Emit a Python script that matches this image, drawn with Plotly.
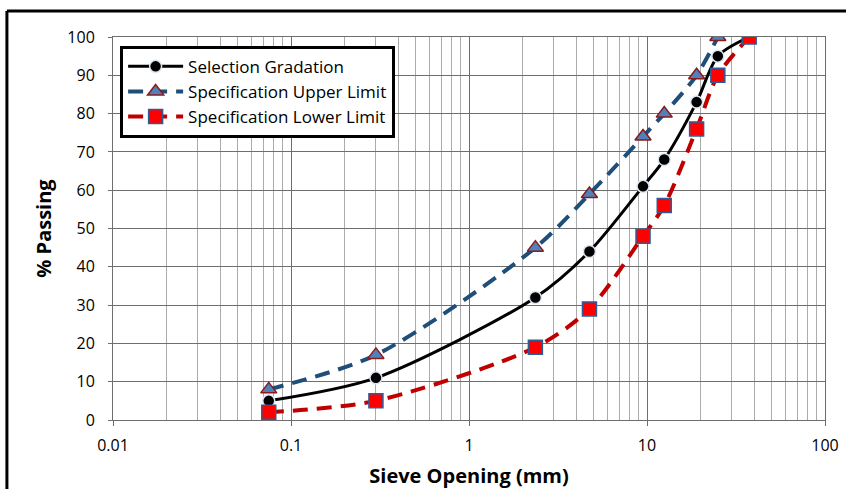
import plotly.graph_objects as go

sieve = [0.075, 0.3, 2.36, 4.75, 9.5, 12.5, 19, 25, 37.5]
selection = [5, 11, 32, 44, 61, 68, 83, 95, 100]
upper_sieve = [0.075, 0.3, 2.36, 4.75, 9.5, 12.5, 19, 25]
upper = [8, 17, 45, 59, 74, 80, 90, 100]
lower = [2, 5, 19, 29, 48, 56, 76, 90, 100]

FONT = "Open Sans"

fig = go.Figure()
fig.add_trace(go.Scatter(
    x=upper_sieve, y=upper, name="Specification Upper Limit", legendrank=2, legendgroup="u",
    mode="lines+markers",
    line=dict(color="#1F4E79", width=4, dash="15px,9px", shape="spline", smoothing=0.8),
    marker=dict(symbol="triangle-up", size=14, color="#4F81BD", line=dict(color="#8B1A1A", width=1.5)),
))
fig.add_trace(go.Scatter(
    x=sieve, y=selection, name="Selection Gradation", legendrank=1, legendgroup="s",
    mode="lines+markers",
    line=dict(color="black", width=3, shape="spline", smoothing=0.8),
    marker=dict(symbol="circle", size=12, color="black", line=dict(color="#DCE6F2", width=1.5)),
))
fig.add_trace(go.Scatter(
    x=sieve, y=lower, name="Specification Lower Limit", legendrank=3, legendgroup="l",
    mode="lines+markers",
    line=dict(color="#C00000", width=4, dash="15px,9px", shape="spline", smoothing=0.8),
    marker=dict(symbol="square", size=14, color="#FF0000", line=dict(color="#2E5C9A", width=1.5)),
))

grid_major = "#6E6E6E"
grid_minor = "#ABABAB"

fig.update_xaxes(
    type="log", range=[-2, 2], automargin=False,
    tickvals=[0.01, 0.1, 1, 10, 100], ticktext=["0.01", "0.1", "1", "10", "100"],
    showgrid=True, gridcolor=grid_major, gridwidth=1,
    minor=dict(dtick="D1", showgrid=True, gridcolor=grid_minor, gridwidth=1, ticks=""),
    ticks="outside", ticklen=5, tickcolor=grid_major, ticklabelstandoff=6,
    showline=True, linecolor=grid_major, linewidth=1, mirror=True,
    tickfont=dict(family=FONT, size=16, color="black"),
    title=dict(text="<b>Sieve Opening (mm)</b>", font=dict(family=FONT, size=20, color="black"), standoff=22),
    zeroline=False,
)
fig.update_yaxes(
    range=[0, 100], dtick=10, automargin=False,
    showgrid=True, gridcolor=grid_major, gridwidth=1,
    ticks="outside", ticklen=4, tickcolor=grid_major, ticklabelstandoff=10,
    showline=True, linecolor=grid_major, linewidth=1, mirror=True,
    tickfont=dict(family=FONT, size=16, color="black"),
    title=dict(text="<b>% Passing</b>", font=dict(family=FONT, size=20, color="black"), standoff=10),
    zeroline=False,
)

fig.update_layout(
    width=846, height=489,
    margin=dict(l=113, r=21, t=37, b=69),
    paper_bgcolor="white", plot_bgcolor="white",
    font=dict(family=FONT, color="black"),
    legend=dict(
        x=0.01, y=0.977, xanchor="left", yanchor="top",
        bgcolor="white", bordercolor="black", borderwidth=3,
        font=dict(family=FONT, size=17, color="black"),
        tracegroupgap=0, itemwidth=55,
    ),
    showlegend=True,
)

# outer chart border (left and top edges visible)
fig.add_shape(type="line", xref="paper", yref="paper",
              x0=-0.149, x1=1.05, y0=1.068, y1=1.068, line=dict(color="black", width=3))
fig.add_shape(type="line", xref="paper", yref="paper",
              x0=-0.149, x1=-0.149, y0=1.068, y1=-0.25, line=dict(color="black", width=3))

fig.write_html("out.html")
